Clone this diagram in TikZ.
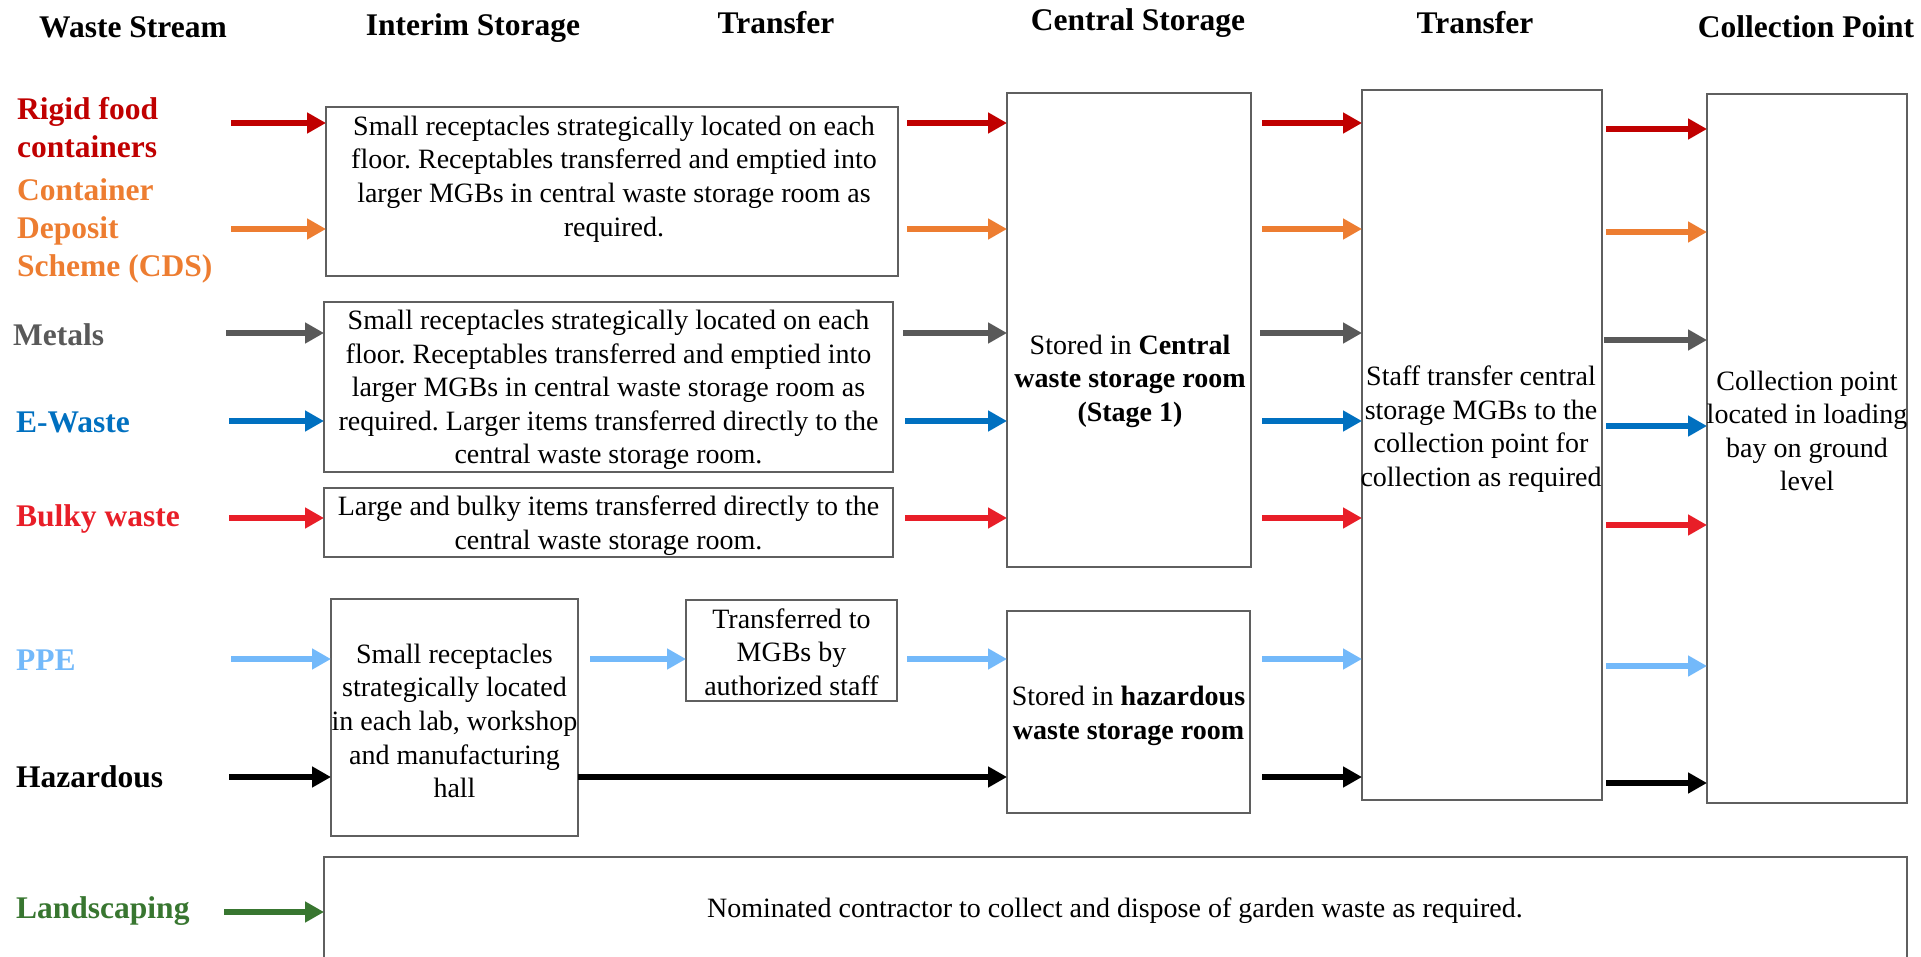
\documentclass[tikz,border=0pt]{standalone}
\usepackage{fontspec}
\setmainfont{Liberation Serif}
\usetikzlibrary{arrows.meta}
\definecolor{cRed}{HTML}{C00000}
\definecolor{cOrange}{HTML}{ED7D31}
\definecolor{cGrey}{HTML}{595959}
\definecolor{cBlue}{HTML}{0070C0}
\definecolor{cBulky}{RGB}{232,30,40}
\definecolor{cPPE}{RGB}{115,185,250}
\definecolor{cGreen}{RGB}{56,118,48}
\definecolor{boxgray}{RGB}{95,95,95}
\frenchspacing
\begin{document}
\begin{tikzpicture}[x=1pt,y=-1pt,
  hdr/.style={font=\fontsize{31.5}{38}\selectfont\bfseries, inner sep=0pt},
  lbl/.style={font=\fontsize{31.5}{38}\selectfont\bfseries, inner sep=0pt, anchor=west, align=left},
  txt/.style={font=\fontsize{28}{33.6}\selectfont, inner sep=0pt, align=center},
  box/.style={draw=boxgray, line width=1.5pt, inner sep=0pt, outer sep=0pt},
  flow/.style={line width=6pt, -{Triangle[length=19pt,width=20pt]}},
]
\useasboundingbox (0,0) rectangle (1921,957);

% headers
\node[hdr] (h1) at (133,27) {Waste Stream};
\node[hdr] (h2) at (473,28) {Interim Storage};
\node[hdr] (h3) at (776,23) {Transfer};
\node[hdr] (h4) at (1138,23) {Central Storage};
\node[hdr] (h5) at (1475,23) {Transfer};
\node[hdr] (h6) at (1806,27) {Collection Point};

% waste stream labels
\node[lbl, text=cRed] (lRigid) at (17,128) {Rigid food\\containers};
\node[lbl, text=cOrange] (lCDS) at (17,231) {Container\\Deposit\\Scheme (CDS)};
\node[lbl, text=cGrey] (lMetals) at (13,335) {Metals};
\node[lbl, text=cBlue] (lEwaste) at (16,422) {E-Waste};
\node[lbl, text=cBulky] (lBulky) at (16,519) {Bulky waste};
\node[lbl, text=cPPE] (lPPE) at (16,660) {PPE};
\node[lbl, text=black] (lHaz) at (16,777) {Hazardous};
\node[lbl, text=cGreen] (lLand) at (16,911) {Landscaping};

% boxes
\node[box, minimum width=572pt, minimum height=169pt] (b1) at (612,191.5) {};
\node[txt] (t1) at (614,179) {Small receptacles strategically located on each\\floor. Receptables transferred and emptied into\\larger MGBs in central waste storage room as\\required.};
\node[box, minimum width=569pt, minimum height=170pt] (b2) at (608.5,387) {};
\node[txt] (t2) at (608.5,390) {Small receptacles strategically located on each\\floor. Receptables transferred and emptied into\\larger MGBs in central waste storage room as\\required. Larger items transferred directly to the\\central waste storage room.};
\node[box, minimum width=569pt, minimum height=69pt] (b3) at (608.5,522.5) {};
\node[txt] (t3) at (608.5,525.5) {Large and bulky items transferred directly to the\\central waste storage room.};
\node[box, minimum width=247pt, minimum height=237pt] (b4) at (454.5,717.5) {};
\node[txt] (t4) at (454.5,721) {Small receptacles\\strategically located\\in each lab, workshop\\and manufacturing\\hall};
\node[box, minimum width=211pt, minimum height=101pt] (trb) at (791.5,650.5) {};
\node[txt] (ttrb) at (791.5,652) {Transferred to\\MGBs by\\authorized staff};
\node[box, minimum width=244pt, minimum height=474pt] (cen) at (1129,330) {};
\node[txt] (tcen) at (1130,381) {Stored in \textbf{Central}\\\textbf{waste storage room}\\\textbf{(Stage 1)}};
\node[box, minimum width=243pt, minimum height=202pt] (haz) at (1128.5,712) {};
\node[txt] (thaz) at (1128.5,716) {Stored in \textbf{hazardous}\\\textbf{waste storage room}};
\node[box, minimum width=240pt, minimum height=710pt] (tra) at (1482,445) {};
\node[txt] (ttra) at (1481,429) {Staff transfer central\\storage MGBs to the\\collection point for\\collection as required};
\node[box, minimum width=200pt, minimum height=709pt] (col) at (1807,448.5) {};
\node[txt] (tcol) at (1807,431) {Collection point\\located in loading\\bay on ground\\level};
\node[box, minimum width=1583pt, minimum height=110pt] (b5) at (1115.5,912) {};
\node[txt] (t5) at (1115,911) {Nominated contractor to collect and dispose of garden waste as required.};

% column 1 arrows
\coordinate (a1) at (231,123);
\coordinate (a2) at (231,229);
\coordinate (a3) at (226,333);
\coordinate (a4) at (229,421);
\coordinate (a5) at (229,518);
\coordinate (a6) at (231,659);
\coordinate (a7) at (229,777);
\coordinate (a8) at (224,912);
\draw[flow, cRed] (a1) -- (a1 -| b1.west);
\draw[flow, cOrange] (a2) -- (a2 -| b1.west);
\draw[flow, cGrey] (a3) -- (a3 -| b2.west);
\draw[flow, cBlue] (a4) -- (a4 -| b2.west);
\draw[flow, cBulky] (a5) -- (a5 -| b3.west);
\draw[flow, cPPE] (a6) -- (a6 -| b4.west);
\draw[flow, black] (a7) -- (a7 -| b4.west);
\draw[flow, cGreen] (a8) -- (a8 -| b5.west);

% column 2 arrows
\coordinate (c1) at (907,123);
\coordinate (c2) at (907,229);
\coordinate (c3) at (903,333);
\coordinate (c4) at (905,421);
\coordinate (c5) at (905,518);
\coordinate (c6) at (590,659);
\coordinate (c6b) at (907,659);
\draw[flow, cRed] (c1) -- (c1 -| cen.west);
\draw[flow, cOrange] (c2) -- (c2 -| cen.west);
\draw[flow, cGrey] (c3) -- (c3 -| cen.west);
\draw[flow, cBlue] (c4) -- (c4 -| cen.west);
\draw[flow, cBulky] (c5) -- (c5 -| cen.west);
\draw[flow, cPPE] (c6) -- (c6 -| trb.west);
\draw[flow, cPPE] (c6b) -- (c6b -| haz.west);
\draw[flow, black] (b4.east |- a7) -- (a7 -| haz.west);

% column 3 arrows
\coordinate (d1) at (1262,123);
\coordinate (d2) at (1262,229);
\coordinate (d3) at (1260,333);
\coordinate (d4) at (1262,421);
\coordinate (d5) at (1262,518);
\coordinate (d6) at (1262,659);
\coordinate (d7) at (1262,777);
\draw[flow, cRed] (d1) -- (d1 -| tra.west);
\draw[flow, cOrange] (d2) -- (d2 -| tra.west);
\draw[flow, cGrey] (d3) -- (d3 -| tra.west);
\draw[flow, cBlue] (d4) -- (d4 -| tra.west);
\draw[flow, cBulky] (d5) -- (d5 -| tra.west);
\draw[flow, cPPE] (d6) -- (d6 -| tra.west);
\draw[flow, black] (d7) -- (d7 -| tra.west);

% column 4 arrows
\coordinate (e1) at (1606,129);
\coordinate (e2) at (1606,232);
\coordinate (e3) at (1604,340);
\coordinate (e4) at (1606,426);
\coordinate (e5) at (1606,525);
\coordinate (e6) at (1606,666);
\coordinate (e7) at (1606,783);
\draw[flow, cRed] (e1) -- (e1 -| col.west);
\draw[flow, cOrange] (e2) -- (e2 -| col.west);
\draw[flow, cGrey] (e3) -- (e3 -| col.west);
\draw[flow, cBlue] (e4) -- (e4 -| col.west);
\draw[flow, cBulky] (e5) -- (e5 -| col.west);
\draw[flow, cPPE] (e6) -- (e6 -| col.west);
\draw[flow, black] (e7) -- (e7 -| col.west);
\end{tikzpicture}
\end{document}
